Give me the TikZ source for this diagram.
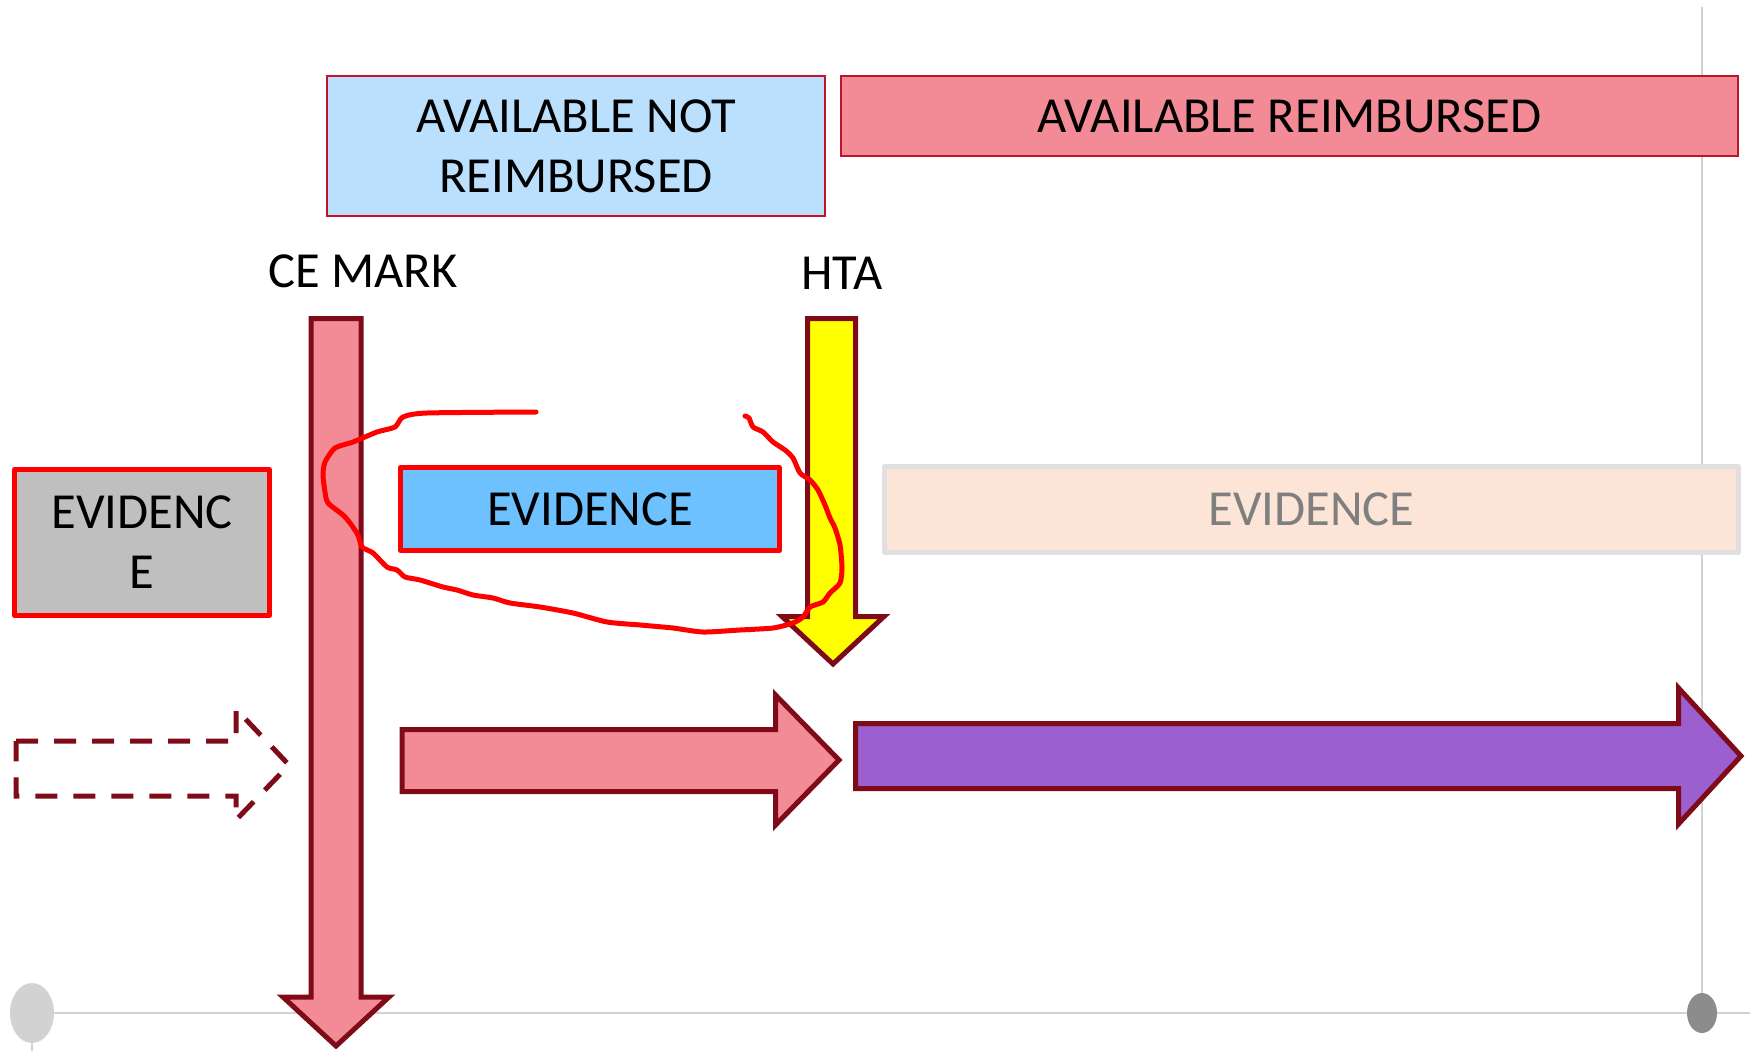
\documentclass[tikz,border=0pt]{standalone}
\usepackage{fontspec}
\setmainfont{Carlito}
\definecolor{pinkfill}{RGB}{243,139,150}
\definecolor{arrowedge}{RGB}{127,11,25}
\definecolor{boxedge}{RGB}{192,20,40}
\definecolor{paleblue}{RGB}{186,224,254}
\definecolor{evblue}{RGB}{109,193,255}
\definecolor{evgray}{RGB}{191,191,191}
\definecolor{peach}{RGB}{252,228,214}
\definecolor{peachedge}{RGB}{224,224,224}
\definecolor{violetfill}{RGB}{155,95,207}
\definecolor{guide}{RGB}{210,210,210}
\definecolor{dotdark}{RGB}{140,140,140}
\definecolor{textgray}{RGB}{127,127,127}
\definecolor{hilite}{RGB}{255,255,0}
\begin{document}
\begin{tikzpicture}[x=1pt,y=-1pt,
  txt/.style={font=\fontsize{50.5}{60}\selectfont, align=center, inner sep=0pt},
  topbox/.style={draw=boxedge, line width=2pt, txt},
  evbox/.style={line width=5pt, line join=round, txt},
  blockarrow/.style={draw=arrowedge, line width=5pt, line join=miter},
  guideline/.style={draw=guide, line width=2pt},
  scribble/.style={draw=red, line width=5pt, line cap=round, line join=round}]
\useasboundingbox (0,0) rectangle (1750,1051);

% timeline guides
\draw[guideline] (32,1013) -- (1750,1013);
\draw[guideline] (1702,7) -- (1702,1013);
\draw[guideline] (32,1040) -- (32,1051);
\fill[guide] (32,1013) ellipse [x radius=22, y radius=30];
\fill[dotdark] (1702,1013) ellipse [x radius=15, y radius=20];

% availability phases
\node[topbox, fill=paleblue, minimum width=498pt, minimum height=140pt] (notreimb) at (576,146) {AVAILABLE NOT\\REIMBURSED};
\node[topbox, fill=pinkfill, minimum width=897pt, minimum height=80pt] (reimb) at (1289.5,116) {AVAILABLE REIMBURSED};

% milestone labels
\node[txt] (cemark) at (363,271) {CE MARK};
\node[txt] (hta) at (842,273) {HTA};

% evidence boxes
\node[evbox, draw=red, fill=evgray, minimum width=255pt, minimum height=146pt] (evpre) at (142,542.5) {EVIDENC\\E};
\node[evbox, draw=red, fill=evblue, minimum width=379pt, minimum height=83pt] (evmid) at (590,509) {EVIDENCE};
\node[evbox, draw=peachedge, fill=peach, text=textgray, minimum width=854pt, minimum height=86pt] (evpost) at (1311.5,509.5) {EVIDENCE};

% CE MARK down arrow
\draw[blockarrow, fill=pinkfill] (311,318.5) -- (361,318.5) -- (361,997) -- (389,997) -- (336,1046)
  -- (283,997) -- (311,997) -- cycle;
% HTA down arrow
\draw[blockarrow, fill=hilite] (807.5,318.5) -- (855.5,318.5) -- (855.5,616.5) -- (884,616.5) -- (833,664)
  -- (782,616.5) -- (807.5,616.5) -- cycle;

% dashed pre-market arrow
\draw[blockarrow, dash pattern=on 22pt off 16pt] (16,741) -- (236,741) -- (236,709) -- (289,765)
  -- (236,820) -- (236,796) -- (16,796) -- cycle;
% pink horizontal arrow
\draw[blockarrow, fill=pinkfill] (402,729.5) -- (775.5,729.5) -- (775.5,695) -- (839,760)
  -- (775.5,825) -- (775.5,791.5) -- (402,791.5) -- cycle;
% purple horizontal arrow
\draw[blockarrow, fill=violetfill] (855.5,723.5) -- (1678.5,723.5) -- (1678.5,688) -- (1741,756)
  -- (1678.5,824) -- (1678.5,788.5) -- (855.5,788.5) -- cycle;

% freehand loop
\draw[scribble] plot[smooth, tension=0.4] coordinates {
  (536,412) (427,413) (403,417) (395,427) (377,432) (353,442) (335,448) (325,462) (323,475)
  (325,492) (328,503) (343,515) (350,523) (358,535) (362,547) (373,553) (387,567) (397,570)
  (405,577) (420,580) (443,587) (457,590) (473,595) (493,598) (510,603) (540,607) (573,613)
  (607,622) (640,625) (673,628) (703,632) (740,630) (773,628) (793,623) (803,617) (810,607)
  (823,602) (830,593) (840,583) (842,568) (840,545) (835,528) (830,518) (825,505) (818,490)
  (810,480) (800,473) (793,458) (785,450) (773,442) (763,432) (753,427) (749,418) (745,416)};
\end{tikzpicture}
\end{document}
